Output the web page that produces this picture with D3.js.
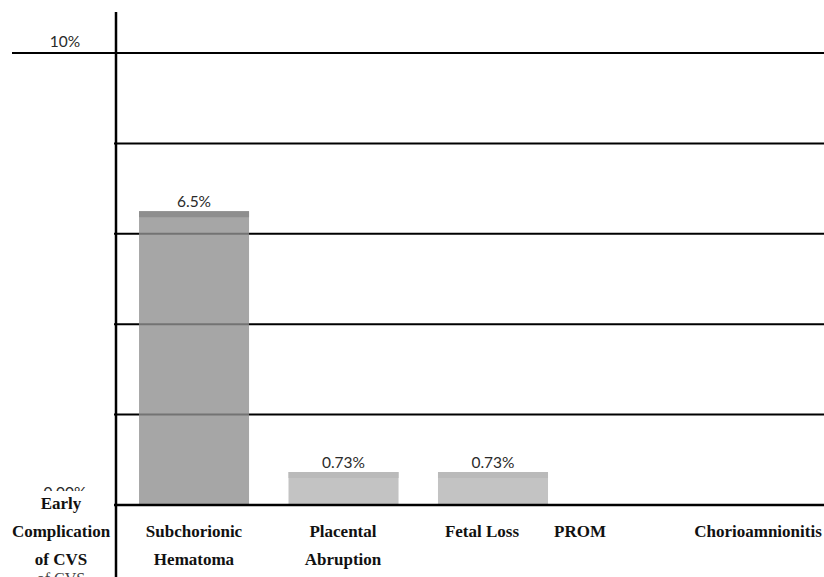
<!DOCTYPE html>
<html>
<head>
<meta charset="utf-8">
<script src="https://cdn.jsdelivr.net/npm/d3@7"></script>
<style>
  html, body { margin: 0; padding: 0; background: #fff; }
  svg { display: block; }
</style>
</head>
<body>
<svg id="chart" width="824" height="577"></svg>
<script>
// Early complications of CVS, rate per complication (%)
const categories = ["Subchorionic Hematoma", "Placental Abruption", "Fetal Loss", "PROM", "Chorioamnionitis"];
const categoryLines = [["Subchorionic", "Hematoma"], ["Placental", "Abruption"], ["Fetal Loss"], ["PROM"], ["Chorioamnionitis"]];
const rates = [6.5, 0.73, 0.73, 0, 0];
const rateLabels = ["6.5%", "0.73%", "0.73%", "0.00%", "0.00%"];
const yTicks = [0, 2, 4, 6, 8, 10];
const yTickLabels = {0: "0.00%", 10: "10%"};
const rowTitle = ["Early", "Complication", "of CVS"];

// layout
const W = 824, H = 577;
const axisX = 116;
const labelCenters = [194, 343, 482, 580, 758]; // column centres of the label row
const lineBase = [537, 565];
const numFont = "Lato, 'Open Sans', 'DejaVu Sans', sans-serif";
const serif = "'Liberation Serif', 'Times New Roman', serif";

const svg = d3.select("#chart");

const y = d3.scaleLinear().domain([0, 10]).range([505, 53]);
const x = d3.scaleBand()
  .domain(categories)
  .range([axisX, 870])
  .paddingInner(0.264)
  .paddingOuter(0.154);

// gridlines
svg.append("g").selectAll("line")
  .data(yTicks)
  .join("line")
  .attr("x1", d => d === 10 ? 12 : axisX - 2)
  .attr("x2", W)
  .attr("y1", d => y(d))
  .attr("y2", d => y(d))
  .attr("stroke", "#000")
  .attr("stroke-width", 2);

// tick labels
svg.append("g").selectAll("text")
  .data(yTicks.filter(d => yTickLabels[d]))
  .join("text")
  .attr("x", 65)
  .attr("y", d => d === 0 ? y(d) - 7 : y(d) - 6)
  .attr("text-anchor", "middle")
  .attr("font-family", numFont)
  .attr("font-size", 15.5)
  .attr("fill", "#2a2a2a")
  .text(d => yTickLabels[d]);

// bars (slightly translucent so gridlines read through)
const colors = ["#909090", "#b4b4b4", "#b4b4b4", "#b4b4b4", "#b4b4b4"];
const topColors = ["#8e8e8e", "#bababa", "#bababa", "#bababa", "#bababa"];
const bars = svg.append("g");
categories.forEach((c, i) => {
  if (rates[i] <= 0) return;
  bars.append("rect")
    .attr("x", x(c))
    .attr("y", y(rates[i]))
    .attr("width", x.bandwidth())
    .attr("height", y(0) - y(rates[i]))
    .attr("fill", colors[i])
    .attr("fill-opacity", 0.8);
  bars.append("rect")
    .attr("x", x(c))
    .attr("y", y(rates[i]))
    .attr("width", x.bandwidth())
    .attr("height", Math.min(6, y(0) - y(rates[i])))
    .attr("fill", topColors[i]);
  bars.append("text")
    .attr("x", x(c) + x.bandwidth() / 2)
    .attr("y", y(rates[i]) - 4)
    .attr("text-anchor", "middle")
    .attr("font-family", numFont)
    .attr("font-size", 15.5)
    .attr("fill", "#2a2a2a")
    .text(rateLabels[i]);
});

// baseline and y axis
svg.append("line")
  .attr("x1", axisX - 2).attr("x2", W)
  .attr("y1", y(0)).attr("y2", y(0))
  .attr("stroke", "#000").attr("stroke-width", 2.5);
svg.append("line")
  .attr("x1", axisX).attr("x2", axisX)
  .attr("y1", 12).attr("y2", H)
  .attr("stroke", "#000").attr("stroke-width", 2.5);

// row title, masking the lower part of the zero tick label beneath it
svg.append("rect")
  .attr("x", 0).attr("y", 491).attr("width", axisX - 3).attr("height", 12)
  .attr("fill", "#fff");
svg.append("g").selectAll("text")
  .data(rowTitle)
  .join("text")
  .attr("x", 61)
  .attr("y", (d, i) => 509 + i * 28)
  .attr("text-anchor", "middle")
  .attr("font-family", serif)
  .attr("font-weight", "bold")
  .attr("font-size", 17)
  .attr("fill", "#111")
  .text(d => d);
svg.append("text")
  .attr("x", 61).attr("y", 584)
  .attr("text-anchor", "middle")
  .attr("font-family", serif)
  .attr("font-size", 16)
  .attr("fill", "#444")
  .text("of CVS");

// category labels
const cat = svg.append("g");
categoryLines.forEach((lines, i) => {
  lines.forEach((t, j) => {
    cat.append("text")
      .attr("x", labelCenters[i])
      .attr("y", lineBase[j])
      .attr("text-anchor", "middle")
      .attr("font-family", serif)
      .attr("font-weight", "bold")
      .attr("font-size", 17)
      .attr("fill", "#111")
      .text(t);
  });
});
</script>
</body>
</html>
